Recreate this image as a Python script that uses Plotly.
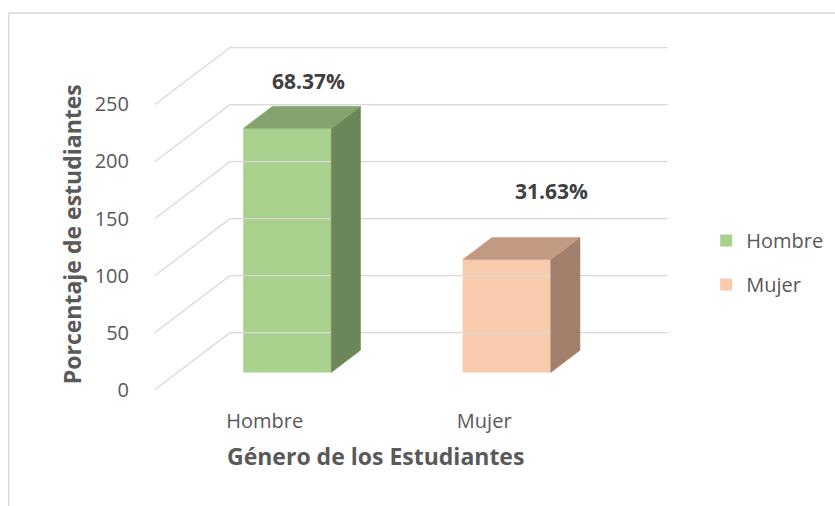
import plotly.graph_objects as go

# ---------------- data ----------------
categories = ["Hombre", "Mujer"]
values = [214, 99]
y_ticks = [0, 50, 100, 150, 200, 250]

# ---------------- style ----------------
FRONT = ["#A9D18E", "#F8CBAD"]
TOP = ["#84A36C", "#C29A82"]
SIDE = ["#6B8759", "#A17F6A"]
GRID = "#D9D9D9"
TXT = "#595959"
FONT = "Open Sans"

W, H = 835, 506
PX_PER_CAT = 219.5
PX_PER_UNIT = 1.1433
X0_PX, Y0_PX = 264.5, 390.0          # pixel of (cat 0, value 0) on front plane
XR = [-0.55, 1.86]
YR = [-3, 303]
# oblique depth (full floor depth)
DEPTH_DX = 75 / PX_PER_CAT
DEPTH_DY = 57 / PX_PER_UNIT
BAR_D0, BAR_D1 = 0.30, 0.69
BAR_W = 88 / PX_PER_CAT
LABEL_DX = [0.20, 0.305]
LABEL_DY = [57, 75]

l = X0_PX + XR[0] * PX_PER_CAT
r = W - (X0_PX + XR[1] * PX_PER_CAT)
b = H - (Y0_PX - YR[0] * PX_PER_UNIT)
t = (Y0_PX - YR[1] * PX_PER_UNIT)
pw = W - l - r
ph = H - t - b


def px2paper_x(px):
    return (px - l) / pw


def px2paper_y(py):
    return (H - b - py) / ph


fig = go.Figure()

# back wall / side wall gridlines
for v in y_ticks:
    xs = [XR[0] + 0.05, XR[0] + 0.05 + DEPTH_DX, XR[1] - 0.025]
    ys = [v, v + DEPTH_DY, v + DEPTH_DY]
    fig.add_trace(go.Scatter(x=xs, y=ys, mode="lines",
                             line=dict(color=GRID, width=1.3),
                             showlegend=False, hoverinfo="skip"))

total = sum(values)
for i, (cat, v) in enumerate(zip(categories, values)):
    base = BAR_D0 * DEPTH_DY
    cx = i + BAR_D0 * DEPTH_DX
    xl, xr = cx - BAR_W / 2, cx + BAR_W / 2
    dd = BAR_D1 - BAR_D0
    ddx, ddy = dd * DEPTH_DX, dd * DEPTH_DY
    # side face
    fig.add_trace(go.Scatter(
        x=[xr, xr, xr + ddx, xr + ddx, xr],
        y=[base, base + v, base + v + ddy, base + ddy, base],
        mode="lines", fill="toself", fillcolor=SIDE[i],
        line=dict(color=SIDE[i], width=0.5), showlegend=False, hoverinfo="skip"))
    # top face
    fig.add_trace(go.Scatter(
        x=[xl, xr, xr + ddx, xl + ddx, xl],
        y=[base + v, base + v, base + v + ddy, base + v + ddy, base + v],
        mode="lines", fill="toself", fillcolor=TOP[i],
        line=dict(color=TOP[i], width=0.5), showlegend=False, hoverinfo="skip"))
    # front face (bar)
    fig.add_trace(go.Bar(
        x=[cx], y=[v], base=[base], width=[BAR_W], name=cat,
        marker=dict(color=FRONT[i], line=dict(width=0)),
        legendgroup=cat, showlegend=True))
    # data label
    pct = v / total * 100
    fig.add_annotation(x=i + LABEL_DX[i], y=v + LABEL_DY[i],
                       text=f"<b>{pct:.2f}%</b>", showarrow=False,
                       xanchor="center", yanchor="middle",
                       font=dict(family=FONT, size=21, color="#404040"))

fig.update_layout(
    width=W, height=H,
    margin=dict(l=l, r=r, t=t, b=b, autoexpand=False),
    paper_bgcolor="white", plot_bgcolor="white",
    barmode="overlay",
    font=dict(family=FONT, color=TXT),
    xaxis=dict(range=XR, tickvals=list(range(len(categories))), ticktext=categories,
               showgrid=False, zeroline=False, showline=False,
               ticks="outside", ticklen=10, tickcolor="rgba(0,0,0,0)",
               tickfont=dict(family=FONT, size=20, color=TXT)),
    yaxis=dict(range=YR, tickvals=y_ticks, showgrid=False, zeroline=False,
               showline=False, ticks="outside", ticklen=10,
               tickcolor="rgba(0,0,0,0)",
               tickfont=dict(family=FONT, size=20, color=TXT)),
    legend=dict(x=px2paper_x(706), y=px2paper_y(221), xanchor="left", yanchor="top",
                font=dict(family=FONT, size=20, color=TXT),
                tracegroupgap=15, bgcolor="rgba(0,0,0,0)"),
    showlegend=True,
)

fig.add_annotation(xref="paper", yref="paper", x=px2paper_x(72), y=px2paper_y(234),
                   xanchor="center", yanchor="middle",
                   text="<b>Porcentaje de estudiantes</b>", textangle=-90,
                   showarrow=False, font=dict(family=FONT, size=23, color=TXT))
fig.add_annotation(xref="paper", yref="paper", x=px2paper_x(375), y=px2paper_y(457),
                   xanchor="center", yanchor="middle",
                   text="<b>Género de los Estudiantes</b>",
                   showarrow=False, font=dict(family=FONT, size=23, color=TXT))

# chart border (top and left visible)
fig.add_shape(type="rect", xref="paper", yref="paper",
              x0=px2paper_x(8.5), x1=px2paper_x(900), y0=px2paper_y(600), y1=px2paper_y(12.5),
              line=dict(color=GRID, width=1.5), fillcolor="rgba(0,0,0,0)", layer="below")

fig.write_html("out.html", config={"displayModeBar": False},
               post_script="document.body.style.margin='0';")
